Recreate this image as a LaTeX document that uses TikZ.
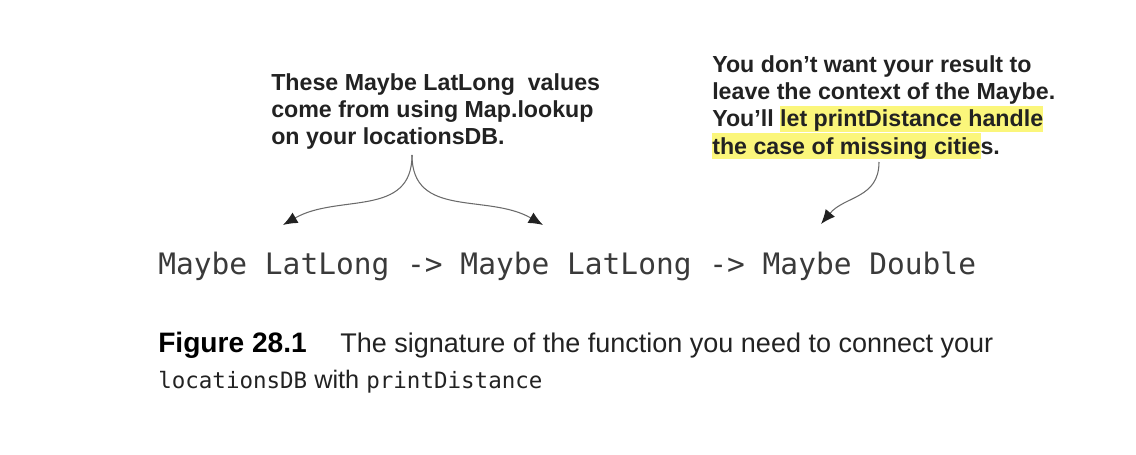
\documentclass[tikz,border=0pt]{standalone}
\usepackage{fontspec}
\usepackage{xcolor}
\usetikzlibrary{arrows.meta}
\setmainfont{Liberation Sans}
\newfontfamily\codefont{DejaVu Sans Mono}
\definecolor{ink}{HTML}{222222}
\definecolor{codeink}{HTML}{3A3A3A}
\definecolor{wire}{HTML}{6A6A6A}
\definecolor{marker}{HTML}{FBF67B}
\newcommand{\marked}[1]{{\setlength{\fboxsep}{0pt}\colorbox{marker}{\rule[-3.6pt]{0pt}{18.5pt}#1}}}

\begin{document}
\begin{tikzpicture}[x=0.025cm,y=-0.025cm,
  note/.style={font=\fontsize{16.5}{19.5}\selectfont\bfseries,text=ink,align=left,inner sep=0pt},
  hook/.style={draw=wire,line width=0.75pt,-{Latex[length=3.6mm,width=3mm,color=ink]}}]
\useasboundingbox (0,0) rectangle (1136,454);
% the two notes
\node[note,anchor=north west] (lookup) at (271,73) {These Maybe LatLong\ \ values\\come from using Map.lookup\\on your locationsDB.};
\node[note,anchor=north west] (context) at (712,55) {You don’t want your result to\\leave the context of the Maybe.\\You’ll \marked{let printDistance handle}\\\marked{the case of missing citie}s.};
% the type signature
\node[font=\codefont\fontsize{21}{25}\selectfont,text=codeink,anchor=base west,inner sep=0pt] (sig) at (158,274) {Maybe LatLong -> Maybe LatLong -> Maybe Double};
\coordinate (fork) at (412,155);
\coordinate (firstarg) at (283,225);
\coordinate (secondarg) at (543,225);
\coordinate (result) at (879,162);
\coordinate (resulttype) at (821,224);
\draw[hook] (fork) to[out=-90,in=30,looseness=1.1] (firstarg);
\draw[hook] (fork) to[out=-90,in=150,looseness=1.1] (secondarg);
\draw[hook] (result) to[out=-90,in=50,looseness=1.1] (resulttype);
% caption
\node[font=\fontsize{20}{23}\selectfont\bfseries,text=black,anchor=base west,inner sep=0pt] (figlabel) at (158,352) {Figure 28.1};
\node[font=\fontsize{19.2}{22}\selectfont,text=ink,anchor=base west,inner sep=0pt] (captext) at (340,352) {The signature of the function you need to connect your};
\node[font=\fontsize{18}{22}\selectfont,text=ink,anchor=base west,inner sep=0pt] (capline) at (158,388) {{\codefont\fontsize{16}{20}\selectfont locationsDB} with {\codefont\fontsize{16}{20}\selectfont printDistance}};
\end{tikzpicture}
\end{document}
